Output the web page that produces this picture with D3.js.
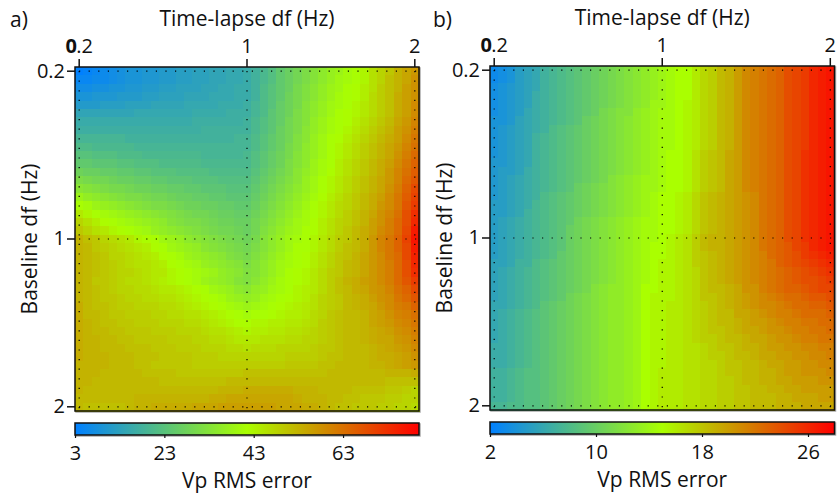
<!DOCTYPE html>
<html><head><meta charset="utf-8">
<script src="https://cdn.jsdelivr.net/npm/d3@7"></script>
<style>html,body{margin:0;padding:0;background:#fff}text{font-family:"Open Sans",sans-serif;fill:#111}</style>
</head><body><svg id="c" width="837" height="495"></svg>
<script>
const tickIndex=[0,20,40];
const tickLabels=["0.2","1","2"];
const xTitle="Time-lapse df (Hz)";
const yTitle="Baseline df (Hz)";
const barTitle="Vp RMS error";
const barTicksA=[3,23,43,63];
const barTicksB=[2,10,18,26];
const colorsStops=["#0080ff","#aaff00","#ff0000"];
const gridA=[
[3,4,5,6,7,8,9,9,10,10,11,11,12,12,13,13,14,14,15,15,16,18,20,22,25,27,29,31,33,35,37,38,40,41,43,46,48,50,53,55,57],
[5,5,6,6,7,8,9,9,10,10,11,11,12,12,13,13,14,14,15,15,16,18,20,22,25,27,29,31,33,35,37,39,40,41,43,46,48,51,53,55,58],
[7,7,8,8,9,9,10,10,11,11,12,12,13,13,13,14,14,15,15,16,16,18,21,23,25,27,30,32,34,36,38,39,41,42,44,46,49,51,53,56,58],
[9,9,10,10,10,11,11,11,12,12,13,13,13,14,14,14,15,15,15,16,16,18,21,23,25,28,30,32,34,36,38,40,41,42,44,47,49,51,54,56,58],
[11,11,11,12,12,12,13,13,13,14,14,14,14,15,15,15,15,16,16,16,17,19,21,23,26,28,30,33,35,37,39,40,41,43,45,47,49,51,54,56,59],
[14,14,14,14,14,14,14,15,15,15,15,15,15,15,16,16,16,16,17,17,17,19,21,24,26,28,31,33,35,37,39,41,42,43,45,47,49,51,54,56,59],
[16,16,16,16,16,16,16,16,16,16,16,16,16,16,17,17,17,17,17,17,18,20,22,24,26,29,31,33,36,38,40,41,42,44,46,48,50,52,55,57,60],
[17,17,17,17,17,17,17,17,17,17,17,17,17,17,17,18,18,18,18,18,18,20,22,24,27,29,31,34,36,38,40,41,43,45,47,49,51,53,56,58,61],
[19,19,19,19,19,19,18,18,18,18,18,18,18,18,18,18,18,18,18,19,19,21,23,25,27,29,32,34,37,39,41,42,44,46,48,50,52,54,56,59,62],
[21,21,20,20,20,20,20,19,19,19,19,19,19,19,19,19,19,19,19,19,19,21,23,25,27,30,32,35,37,39,41,43,45,47,49,51,53,55,57,60,63],
[23,23,22,22,22,21,21,21,20,20,20,20,20,20,20,19,19,19,19,19,20,22,24,26,28,30,33,35,37,39,41,43,45,47,49,51,53,55,58,61,64],
[25,25,24,24,24,23,23,22,22,22,21,21,21,21,21,20,20,20,20,20,20,22,24,26,28,31,33,35,38,40,41,44,46,48,50,52,54,56,59,62,65],
[28,27,27,26,26,25,25,24,24,23,23,23,22,22,22,22,21,21,21,21,21,23,25,27,29,31,34,36,38,40,42,44,46,48,50,52,54,57,60,63,66],
[31,30,29,29,28,27,27,26,26,25,25,24,24,24,23,23,23,22,22,22,22,24,26,28,30,32,34,37,39,41,43,45,47,49,51,53,55,57,60,64,67],
[34,33,32,31,30,30,29,28,28,27,27,26,26,25,25,24,24,24,23,23,23,25,27,29,31,33,35,37,39,41,43,45,47,49,51,53,55,58,61,65,69],
[38,36,35,34,33,32,31,31,30,29,29,28,27,27,26,26,25,25,24,24,24,26,28,30,32,34,36,38,40,42,44,46,48,50,52,54,56,59,62,66,70],
[41,40,38,37,36,35,34,33,32,31,31,30,29,28,28,27,27,26,26,25,25,27,29,31,33,35,37,39,41,43,45,47,48,50,52,54,57,59,62,67,71],
[45,43,41,40,39,38,37,36,35,34,33,32,31,30,29,29,28,27,27,26,26,28,30,32,34,36,38,40,41,43,45,47,49,51,53,55,58,60,63,68,73],
[48,46,44,42,41,40,39,38,37,36,35,33,32,31,31,30,29,28,28,27,27,29,31,33,35,37,39,40,42,44,46,48,49,51,53,56,58,61,64,68,74],
[50,48,46,45,43,42,41,40,39,37,36,35,34,33,32,31,30,29,29,28,27,29,32,34,36,38,39,41,42,44,46,48,50,52,54,56,59,61,64,69,76],
[53,51,50,48,47,46,45,43,42,41,39,38,37,35,34,33,32,31,30,29,28,30,33,35,37,39,40,41,43,45,47,49,50,52,54,57,60,62,65,70,77],
[53,52,50,49,48,47,46,45,44,42,41,39,38,37,36,34,33,32,31,30,29,31,33,35,37,39,41,41,43,45,47,49,51,52,54,57,60,62,65,69,76],
[53,52,51,50,48,48,47,46,45,44,42,41,40,38,37,36,35,34,32,31,30,32,34,36,38,40,41,42,44,46,48,50,51,53,55,57,59,62,64,69,75],
[53,52,51,50,49,48,47,46,46,45,44,42,41,40,39,37,36,35,34,33,31,33,35,37,39,40,41,42,44,46,48,50,52,53,55,57,59,61,64,68,74],
[53,52,51,50,49,48,48,47,46,45,45,43,42,41,40,39,38,36,35,34,32,33,35,37,39,41,42,43,45,47,49,50,52,53,55,57,59,61,64,68,73],
[53,52,50,50,49,48,47,47,46,45,44,43,42,41,40,38,37,36,35,33,32,34,36,38,40,41,42,43,45,47,49,51,53,54,56,57,59,61,64,67,71],
[53,52,51,50,49,48,48,47,47,46,45,45,44,43,42,41,39,38,37,35,34,36,37,39,40,41,43,44,45,47,49,51,52,54,55,57,58,60,63,65,69],
[53,52,51,50,50,49,48,48,47,47,46,46,45,44,43,42,41,40,38,37,36,37,39,40,41,42,43,44,46,48,49,50,52,53,54,56,58,59,62,64,67],
[54,52,51,51,50,49,49,48,48,48,47,47,46,45,44,43,42,41,40,39,38,39,40,41,42,43,44,45,46,48,49,50,52,53,54,55,57,59,61,62,65],
[54,52,52,51,50,50,49,49,49,48,48,47,47,46,46,45,44,43,42,41,40,41,41,42,43,44,44,45,47,48,50,51,52,52,53,55,56,58,60,61,63],
[54,53,52,51,51,50,50,49,49,49,48,48,48,47,47,46,45,44,43,42,42,43,43,44,44,45,45,46,47,49,50,51,52,52,53,55,56,57,59,60,62],
[54,53,52,52,51,51,50,50,50,49,49,49,48,48,48,47,46,46,45,44,43,44,44,45,45,46,46,47,48,49,50,51,52,52,53,54,55,56,58,59,61],
[54,53,53,52,52,51,51,50,50,50,50,49,49,49,48,48,47,47,46,45,45,45,46,46,46,47,47,48,48,49,50,51,52,52,53,54,55,55,57,58,60],
[54,53,53,52,52,52,51,51,51,50,50,50,49,49,49,48,48,48,47,47,46,47,47,47,48,48,48,48,49,50,50,51,52,52,52,53,54,55,56,57,59],
[54,53,53,53,52,52,52,51,51,51,50,50,50,50,49,49,49,48,48,48,48,48,48,48,48,49,49,49,49,50,51,51,52,52,52,53,54,54,55,56,58],
[53,53,53,53,52,52,52,51,51,50,50,50,50,50,49,49,49,49,49,49,49,49,49,49,49,50,50,50,50,51,51,52,52,52,52,53,53,54,55,56,57],
[53,53,53,52,52,52,52,52,51,51,51,51,50,50,50,50,50,50,50,50,51,51,51,51,51,51,51,51,51,51,52,52,52,52,52,52,52,53,53,53,54],
[53,53,52,52,52,52,52,52,52,52,51,51,51,51,51,51,51,51,52,52,52,52,52,52,52,52,52,52,52,52,52,52,52,52,52,52,52,51,51,51,51],
[53,52,52,52,52,52,52,52,52,52,52,52,52,52,52,52,52,53,53,53,54,54,54,54,54,54,53,53,53,52,52,52,52,51,51,51,51,50,50,49,48],
[52,52,52,52,52,52,52,53,53,53,53,53,53,53,53,53,54,54,55,55,55,55,55,55,55,55,54,53,53,53,52,52,51,51,50,50,50,49,49,48,48],
[52,51,51,51,51,51,52,53,53,54,54,54,54,54,55,55,55,56,56,56,56,56,56,56,55,55,55,54,54,53,52,51,51,50,50,50,49,49,48,48,47]
];
const gridB=[
[3,3.5,4,5,5.5,6,7,7.5,8,8.5,9,9.5,10,10.5,11,11.5,12,12.5,13,13.5,14,14.5,15,15,16,17,17.5,18.5,19,20,21,21.5,22,22.5,23,24,24.5,25,26,26.5,27],
[3,3.5,4,5,5.5,6,7,7.5,8,8.5,9,9.5,10,10.5,11,11.5,12,12.5,13,13.5,14,14.5,15,15,16,17,17.5,18.5,19,20,21,21.5,22,22.5,23,24,24.5,25,26,26.5,27],
[3.5,4,4.5,5,5.5,6,7,7.5,8,8.5,9,9.5,10,10.5,11,11.5,12,12.5,13,13.5,14,14.5,15,15,16,17,17.5,18.5,19,20,21,21.5,22,22.5,23,24,24.5,25,26,26.5,27],
[3.5,4,4.5,5,5.5,6.5,7,7.5,8,8.5,9,9.5,10,10.5,11,11.5,12,12.5,13,13.5,14,14.5,15,15,16,17,17.5,18.5,19,20,21,21.5,22,22.5,23,24,24.5,25,26,26.5,27],
[3.5,4,4.5,5,5.5,6.5,7,7.5,8,8.5,9,9.5,10,10.5,11,11.5,12,12.5,13,14,14,14.5,15,15.5,16,17,17.5,18.5,19,20,21,21.5,22,22.5,23,24,24.5,25,26,26.5,27],
[3.5,4,4.5,5,6,6.5,7,7.5,8,8.5,9,9.5,10,11,11.5,12,12,13,13.5,14,14.5,14.5,15,15.5,16,17,17.5,18.5,19,20,21,21.5,22,22.5,23,24,24.5,25,26,26.5,27],
[4,4,4.5,5.5,6,6.5,7,7.5,8,8.5,9,10,10.5,11,11.5,12,12.5,13,13.5,14,14.5,14.5,15,15.5,16,17,17.5,18.5,19,20,21,21.5,22,22.5,23,24,24.5,25,26,26.5,27],
[4,4.5,5,5.5,6,6.5,7,8,8.5,9,9.5,10,10.5,11,11.5,12,12.5,13,13.5,14,14.5,14.5,15,15.5,16,17,17.5,18.5,19,20,21,21.5,22,22.5,23,24,24.5,25,26,26.5,27],
[4,4.5,5,5.5,6,7,7.5,8,8.5,9,9.5,10,10.5,11,11.5,12,12.5,13,13.5,14,14.5,14.5,15,15.5,16,17,17.5,18.5,19,20,21,21.5,22,22.5,23,24,24.5,25,26,26.5,27],
[4,4.5,5,5.5,6,7,7.5,8,8.5,9,9.5,10,10.5,11,11.5,12,12.5,13,13.5,14,14.5,14.5,15,15.5,16,17,17.5,18.5,19,20,21,21.5,22,22.5,23,24,24.5,25,26,26.5,27],
[4,4.5,5,5.5,6,7,7.5,8,8.5,9,9.5,10,10.5,11,11.5,12,12.5,13,13.5,14,14.5,15,15,15.5,16.5,17.5,18,18.5,19.5,20,21,21.5,22,22.5,23,24,24.5,25.5,26,26.5,27],
[4.5,4.5,5,5.5,6,7,7.5,8,8.5,9,9.5,10,10.5,11,11.5,12,12.5,13,13.5,14,14.5,15,15,15.5,16.5,17.5,18,18.5,19.5,20,21,21.5,22,22.5,23,24,24.5,25.5,26,26.5,27],
[4.5,5,5,5.5,6.5,7,7.5,8,8.5,9,9.5,10,10.5,11,11.5,12,12.5,13,13.5,14,14.5,15,15,15.5,16.5,17.5,18,18.5,19.5,20,21,21.5,22,22.5,23,24,24.5,25.5,26,26.5,27],
[4.5,5,5.5,6,6.5,7,7.5,8,8.5,9,9.5,10,10.5,11,12,12.5,13,13.5,14,14,14.5,15,15,15.5,16.5,17.5,18,18.5,19.5,20,21,21.5,22,22.5,23,24,24.5,25.5,26,26.5,27],
[4.5,5,5.5,6,6.5,7,7.5,8,8.5,9,10,10.5,11,11.5,12,12.5,13,13.5,14,14,14.5,15,15,15.5,16.5,17.5,18,18.5,19.5,20,21,21.5,22,22.5,23,24,24.5,25.5,26,26.5,27],
[4.5,5,5.5,6,6.5,7,8,8.5,9,9.5,10,10.5,11,11.5,12,12.5,13,13.5,14,14.5,15,15,15.5,16,17,18,18.5,19,19.5,20,20.5,21,22,22.5,23,24,24.5,25.5,26,26.5,27],
[5,5,5.5,6,6.5,7.5,8,8.5,9,9.5,10,10.5,11,11.5,12,12.5,13,13.5,14,14.5,15,15,15.5,16,17,18,18.5,19,19.5,20,20.5,21,22,22.5,23,24,24.5,25.5,26,26.5,27],
[5,5,5.5,6,7,7.5,8,8.5,9,9.5,10,10.5,11,11.5,12,12.5,13,13.5,14,14.5,15,15,15.5,16,17,18,18.5,19,19.5,20,20.5,21,22,22.5,23,24,24.5,25.5,26,26.5,27],
[5,5.5,6,6.5,7,7.5,8,8.5,9,9.5,10.5,11,11.5,12,12.5,13,13.5,14,14.5,14.5,15,15,15.5,16,17,18,18.5,19,19.5,20,20.5,21,22,22.5,23,24,24.5,25.5,26,26.5,27],
[5,5.5,6,6.5,7,7.5,8,8.5,9,10,10.5,11,11.5,12,12.5,13,13.5,14,14.5,14.5,15,15,15.5,16,17,18,18.5,19,19.5,20,20.5,21,22,22.5,23,24,24.5,25.5,26,26.5,27],
[5,5.5,6,6.5,7,7.5,8,8.5,9,10,10.5,11,11.5,12,12.5,13,13.5,14,14.5,14.5,15,15.5,16,16.5,17.5,18.5,19,19,19.5,20,20.5,21,22,22.5,23,24,24.5,25.5,26,26.5,27],
[5,5.5,6,6.5,7,7.5,8,8.5,9,10,10.5,11,11.5,12,12.5,13,13.5,14,14.5,15,15,15.5,16,16.5,17.5,18.5,19,19,19.5,20,20.5,21,22,22.5,23,23.5,24.5,25,26,26.5,27],
[5,5.5,6,6.5,7,7.5,8,8.5,9.5,10,10.5,11,11.5,12,12.5,13,13.5,14,14.5,15,15,15.5,16,16.5,17.5,18,18.5,19,19.5,20,20.5,21,21.5,22.5,23,23.5,24,25,25.5,26,26.5],
[5.5,5.5,6,7,7,8,8.5,9,9.5,10,10.5,11,11.5,12,12.5,13,13.5,14,14.5,15,15.5,15.5,16,16.5,17.5,18,18.5,19,19.5,20,20.5,21,21.5,22,23,23.5,24,24.5,25,25.5,26],
[5.5,6,6.5,7,7.5,8,8.5,9,9.5,10,10.5,11,11.5,12,12.5,13,13.5,14,14.5,15,15.5,15.5,16,16.5,17,18,18.5,19,19.5,20,20.5,21,21.5,22,22.5,23,23.5,24,24.5,25,25.5],
[5.5,6,6.5,7,7.5,8,8.5,9,9.5,10,10.5,11,11.5,12,12.5,13,13.5,14,14.5,15,15.5,15.5,16,16.5,17,18,18.5,19,19.5,20,20.5,21,21.5,22,22.5,23,23.5,24,24,24.5,25],
[5.5,6,6.5,7,7.5,8,8.5,9,9.5,10,10.5,11,12,12.5,13,13,13.5,14,15,15,15.5,15.5,16,16.5,17,18,18.5,18.5,19,19.5,20.5,20.5,21.5,22,22.5,23,23,23.5,24,24.5,24.5],
[5.5,6,6.5,7,7.5,8,8.5,9,9.5,10.5,11,11.5,12,12.5,13,13,13.5,14,15,15.5,15.5,15.5,16,16.5,17,18,18,18.5,19,19.5,20,20.5,21,21.5,22,22.5,22.5,23,23.5,23.5,24],
[6,6,6.5,7,7.5,8,9,9.5,10,10.5,11,11.5,12,12.5,13,13,13.5,14,15,15.5,15.5,16,16,16.5,17,17.5,18,18.5,19,19.5,20,20.5,21,21,21.5,22,22.5,22.5,23,23,23.5],
[6,6.5,7,7.5,8,8.5,9,9.5,10,10.5,11,11.5,12,12.5,13,13,13.5,14,15,15.5,15.5,16,16,16.5,17,17.5,18,18.5,18.5,19.5,19.5,20,20.5,21,21.5,21.5,22,22.5,22.5,22.5,23],
[6,6.5,7,7.5,8,8.5,9,9.5,10,10.5,11,11.5,12,12.5,13,13,13.5,14,15,15.5,15.5,16,16,16.5,17,17.5,18,18.5,18.5,19,19.5,20,20,20.5,21,21.5,21.5,22,22,22.5,22.5],
[6,6.5,7,7.5,8,8.5,9,9.5,10,10.5,11,11.5,12,12.5,13,13,13.5,14,15,15.5,15.5,16,16,16.5,17,17.5,18,18,18.5,19,19.5,19.5,20,20.5,20.5,21,21.5,21.5,22,22,22.5],
[6,6.5,7,7.5,8,8.5,9,9.5,10,10.5,11,11.5,12,12.5,13,13,13.5,14,15,15.5,15.5,16,16,16.5,17,17.5,17.5,18,18.5,18.5,19,19.5,19.5,20,20.5,20.5,21,21.5,21.5,22,22],
[6.5,6.5,7,7.5,8,8.5,9,9.5,10,10.5,11,11.5,12,12.5,13,13,13.5,14,15,15.5,15.5,16,16,16.5,16.5,17,17.5,18,18,18.5,19,19,19.5,20,20,20.5,20.5,21,21,21.5,21.5],
[6.5,6.5,7,7.5,8,8.5,9,9.5,10,10.5,11,11.5,12,12.5,13,13,13.5,14,15,15.5,15.5,16,16,16.5,16.5,17,17.5,17.5,18,18.5,18.5,19,19.5,19.5,20,20,20.5,20.5,21,21,21.5],
[6.5,6.5,7,7.5,8,8.5,9,9.5,10,10.5,11,11.5,12,12.5,13,13,13.5,14,15,15.5,15.5,16,16,16.5,16.5,17,17,17.5,18,18,18.5,18.5,19,19.5,19.5,20,20,20.5,20.5,21,21],
[7,7,7.5,8,8.5,8.5,9,9.5,10,10.5,11,11.5,12,12.5,13,13,13.5,14,15,15.5,16,16,16,16.5,16.5,17,17,17.5,18,18,18.5,18.5,19,19,19.5,20,20,20.5,20.5,20.5,21],
[7,7,7.5,8,8.5,8.5,9,9.5,10,10.5,11,11.5,12,12.5,13,13,13.5,14,15,15.5,16,16,16,16.5,16.5,17,17,17.5,17.5,18,18.5,18.5,19,19,19.5,19.5,20,20,20,20.5,20.5],
[7,7,7.5,8,8.5,8.5,9,9.5,10,10.5,11,11.5,12,12.5,13,13,13.5,14,15,15.5,16,16,16,16.5,16.5,17,17,17.5,17.5,18,18,18.5,18.5,19,19,19.5,19.5,20,20,20,20],
[7,7,7.5,8,8.5,8.5,9,9.5,10,10.5,11,11.5,12,12.5,13,13,13.5,14,15,15.5,16,16,16,16.5,16.5,17,17,17.5,17.5,18,18,18.5,18.5,18.5,19,19,19.5,19.5,19.5,20,20],
[7.5,7.5,8,8,8.5,8.5,9,9.5,10,10.5,11,11.5,12,12.5,13,13,13.5,14,15,15.5,16,16,16,16.5,16.5,17,17,17.5,17.5,18,18,18.5,18.5,18.5,19,19,19,19.5,19.5,19.5,19.5]
];
const svg=d3.select("#c");
const defs=svg.append("defs");
function panel(o){
  const g=svg.append("g");
  const idx=d3.range(o.grid[0].length);
  const x=d3.scaleBand().domain(idx).range([o.l,o.r]);
  const y=d3.scaleBand().domain(d3.range(o.grid.length)).range([o.t,o.b]);
  const color=d3.scaleLinear().domain([o.vmin,o.vmid,o.vmax]).range(colorsStops);
  const cells=o.grid.flatMap((row,j)=>row.map((v,i)=>({i,j,v})));
  // soft grey edge that sits behind the frame and the colour bar
  [[o.t,o.b-o.t],[o.bt,o.bh]].forEach(([ty,th])=>{
    g.append("rect").attr("x",o.l+1).attr("y",ty+1).attr("width",o.r-o.l).attr("height",th)
     .attr("fill","none").attr("stroke","#aaa").attr("stroke-width",1.5);
  });
  g.append("g").attr("shape-rendering","crispEdges").selectAll("rect").data(cells).join("rect")
   .attr("x",d=>x(d.i)).attr("y",d=>y(d.j)).attr("width",x.bandwidth()+.5).attr("height",y.bandwidth()+.5)
   .attr("fill",d=>color(d.v));
  const gl=g.append("g").attr("stroke","#000").attr("stroke-width",1.2).attr("stroke-dasharray","1.2 8.4").attr("fill","none");
  tickIndex.forEach(t=>{
    const xc=x(t)+x.bandwidth()/2, yc=y(t)+y.bandwidth()/2;
    gl.append("line").attr("x1",xc).attr("x2",xc).attr("y1",o.t+4).attr("y2",o.b-2);
    gl.append("line").attr("x1",o.l+4).attr("x2",o.r-2).attr("y1",yc).attr("y2",yc);
  });
  g.append("rect").attr("x",o.l).attr("y",o.t).attr("width",o.r-o.l).attr("height",o.b-o.t)
   .attr("fill","none").attr("stroke","#111").attr("stroke-width",1.5);
  const fmt=d=>tickLabels[tickIndex.indexOf(d)];
  const top=g.append("g").attr("transform",`translate(0,${o.t})`)
    .call(d3.axisTop(x).tickValues(tickIndex).tickFormat(fmt).tickSize(8).tickPadding(6));
  const left=g.append("g").attr("transform",`translate(${o.l},0)`)
    .call(d3.axisLeft(y).tickValues(tickIndex).tickFormat(fmt).tickSize(8).tickPadding(2));
  [top,left].forEach(a=>{
    a.select(".domain").remove();
    a.selectAll("line").attr("stroke","#111").attr("stroke-width",1.5);
    a.selectAll("text").attr("font-size",o.fs).attr("font-family",'"Open Sans",sans-serif').attr("fill","#111");
  });
  top.selectAll("text").filter(d=>d===0).text(null).call(s=>{
    s.append("tspan").attr("font-weight","bold").attr("letter-spacing","-0.6").text(tickLabels[0][0]);
    s.append("tspan").text(tickLabels[0].slice(1));
  });
  g.append("text").attr("x",o.panelX).attr("y",27).attr("font-size",o.tfs).text(o.name);
  g.append("text").attr("x",(o.l+o.r)/2).attr("y",o.t-41).attr("text-anchor","middle").attr("font-size",o.tfs).text(xTitle);
  g.append("text").attr("transform",`translate(${o.l-38},${(o.t+o.b)/2}) rotate(-90)`).attr("text-anchor","middle").attr("font-size",o.tfs).text(yTitle);
  const bx=d3.scaleLinear().domain([o.vmin,o.vmax]).range([o.l,o.r]);
  const gid="grad"+o.name[0];
  defs.append("linearGradient").attr("id",gid).selectAll("stop").data([o.vmin,o.vmid,o.vmax]).join("stop")
    .attr("offset",d=>(d-o.vmin)/(o.vmax-o.vmin)).attr("stop-color",d=>color(d));
  g.append("rect").attr("x",o.l).attr("y",o.bt).attr("width",o.r-o.l).attr("height",o.bh)
    .attr("fill",`url(#${gid})`).attr("stroke","#111").attr("stroke-width",1.5);
  const ax=g.append("g").attr("transform",`translate(0,${o.bt+o.bh})`)
    .call(d3.axisBottom(bx).tickValues(o.ticks).tickFormat(d3.format("d")).tickSize(3).tickPadding(8));
  ax.select(".domain").remove();
  ax.selectAll("line").attr("stroke","#111").attr("stroke-width",1.2);
  ax.selectAll("text").attr("font-size",o.fs).attr("font-family",'"Open Sans",sans-serif').attr("fill","#111");
  g.append("text").attr("x",(o.l+o.r)/2).attr("y",o.bt+o.bh+53).attr("text-anchor","middle").attr("font-size",o.tfs).text(barTitle);
}
panel({name:"a)",grid:gridA,l:75,r:419,t:67,b:411,vmin:3,vmid:41.5,vmax:80,ticks:barTicksA,bt:423,bh:12,panelX:10,fs:20,tfs:21});
panel({name:"b)",grid:gridB,l:490,r:834.5,t:66,b:410,vmin:2,vmid:15,vmax:28,ticks:barTicksB,bt:422,bh:12,panelX:433,fs:20,tfs:21});
</script></body></html>
